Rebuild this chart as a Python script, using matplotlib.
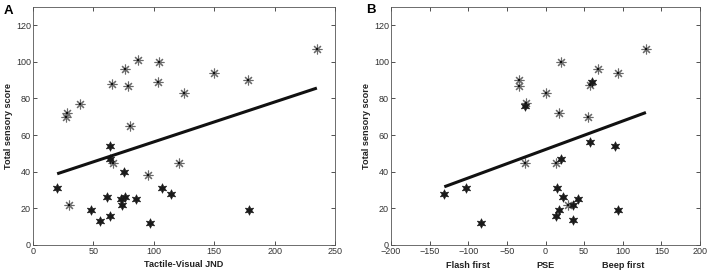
import numpy as np
import matplotlib
matplotlib.use("Agg")
import matplotlib.pyplot as plt

plt.rcParams['font.family'] = ['Liberation Sans', 'DejaVu Sans']

# ---------- Panel A data ----------
a_ast_x = [235, 87, 104, 76, 150, 178, 103.5, 65, 79, 125, 39, 28.5, 27, 80, 66, 121, 95, 30]
a_ast_y = [107, 101, 100, 96, 94, 90, 89, 88, 87, 83, 77, 72, 70, 65, 45, 45, 38, 22]
a_fil_x = [64, 63.5, 75, 20, 107, 114, 61.5, 76, 73, 85, 74, 48, 179, 64, 55.5, 97]
a_fil_y = [54, 47, 40, 31, 31, 28, 26, 26, 25, 25, 22, 19, 19, 16, 13, 12]
a_fit = (0.2175, 34.5)   # slope, intercept

# ---------- Panel B data ----------
b_ast_x = [130, 20, 68, 94, -34, -34, 0, -25, 58, 18, 55, -27, 13, 28.5]
b_ast_y = [107, 100, 96, 94, 90, 87, 83, 77.5, 87.5, 72, 70, 45, 45, 22]
b_fil_x = [-26, 60, 57, 90, 20.5, -103, -131, -84, 15.5, 22.5, 42, 35, 17, 13, 35, 93.5]
b_fil_y = [76, 89, 56, 54, 47, 31, 28, 12, 31, 26, 25, 22, 19, 16, 13.5, 19]
b_fit = (0.1553, 52.1)

xticks_a = [0, 50, 100, 150, 200, 250]
xticks_b = [-200, -150, -100, -50, 0, 50, 100, 150, 200]
yticks = [0, 20, 40, 60, 80, 100, 120]
b_side_labels = ["Flash first", "PSE", "Beep first"]

W, H = 709, 272
fig = plt.figure(figsize=(W / 100, H / 100), dpi=100)

ax_a = fig.add_axes([33 / W, 27 / H, 302 / W, 238.3 / H])
ax_b = fig.add_axes([391 / W, 27 / H, 309 / W, 238.3 / H])

ast_marker = (8, 2, 0)
hexagram = (6, 1, 0)
tick_color = '#333333'
label_kw = dict(fontsize=6.6, fontweight='bold', color='#222222')


def draw(ax, ax_x, ax_y, fx, fy, fit, xlim, xticks):
    ax.plot(ax_x, ax_y, linestyle='none', marker=ast_marker, markersize=7,
            markeredgecolor='#6a6a6a', markeredgewidth=0.8, zorder=3)
    ax.plot(ax_x, ax_y, linestyle='none', marker='s', markersize=1.6,
            color='#111111', markeredgewidth=0, zorder=4)
    ax.plot(fx, fy, linestyle='none', marker=hexagram, markersize=7,
            color='#1a1a1a', markeredgecolor='#1a1a1a', markeredgewidth=0.4, zorder=3)
    allx = np.array(list(ax_x) + list(fx))
    xs = np.array([allx.min(), allx.max()])
    ax.plot(xs, fit[0] * xs + fit[1], color='#111111', linewidth=2.2,
            solid_capstyle='butt', zorder=5)
    ax.set_xlim(*xlim)
    ax.set_ylim(0, 130)
    ax.set_xticks(xticks)
    ax.set_yticks(yticks)
    ax.tick_params(direction='in', length=3, width=0.6, top=True, right=True,
                   labelsize=6.5, colors=tick_color, pad=1.5)
    for s in ax.spines.values():
        s.set_linewidth(0.6)
        s.set_color('#555555')
    ax.set_ylabel('Total sensory score', labelpad=2, **label_kw)


draw(ax_a, a_ast_x, a_ast_y, a_fil_x, a_fil_y, a_fit, (0, 250), xticks_a)
draw(ax_b, b_ast_x, b_ast_y, b_fil_x, b_fil_y, b_fit, (-200, 200), xticks_b)

ax_a.set_xlabel('Tactile-Visual JND', labelpad=2.5, **label_kw)

for lbl, xd in zip(b_side_labels, [-100, 0, 100]):
    ax_b.annotate(lbl, xy=(xd, 0), xycoords=('data', 'axes fraction'),
                  xytext=(0, -11.5), textcoords='offset points',
                  ha='center', va='top', **label_kw)

fig.text(4 / W, 1 - 5 / H, 'A', fontsize=9.5, fontweight='bold', va='top', ha='left')
fig.text(366 / W, 1 - 4 / H, 'B', fontsize=9.5, fontweight='bold', va='top', ha='left')

fig.savefig('out.png', dpi=100)
